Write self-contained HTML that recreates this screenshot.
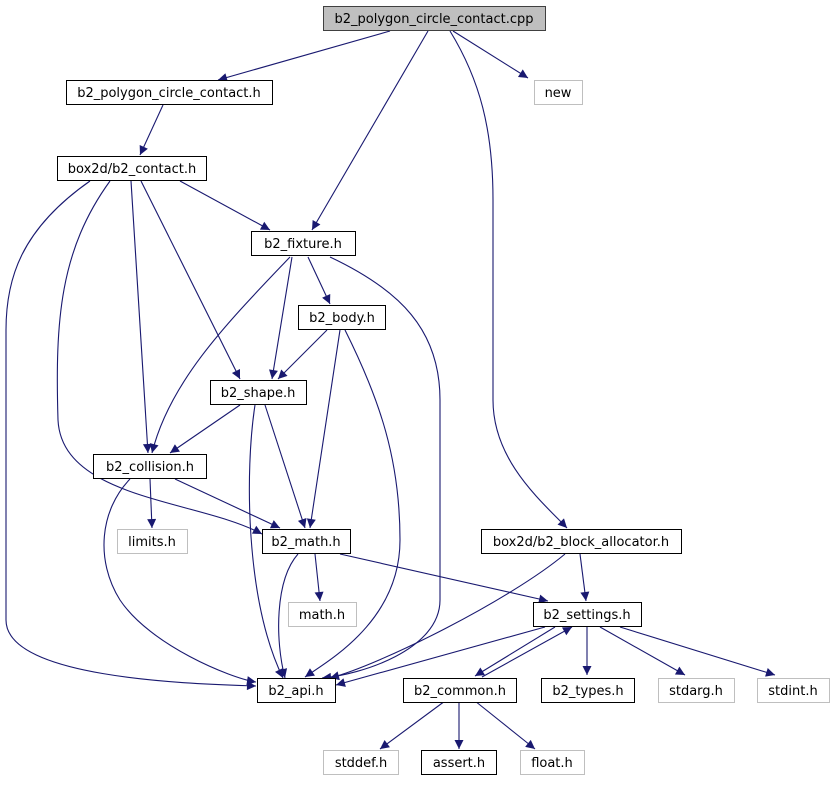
<!DOCTYPE html>
<html><head><style>
body{margin:0;background:#fff;width:834px;height:784px;overflow:hidden}
svg text{font-family:"DejaVu Sans","Liberation Sans",sans-serif;font-size:13px;text-anchor:middle}
</style></head><body>
<svg width="834" height="784" viewBox="0 0 834 784" xmlns="http://www.w3.org/2000/svg">
<defs><marker id="a" viewBox="0 0 10 10" refX="10" refY="5" markerWidth="11" markerHeight="9" orient="auto" markerUnits="userSpaceOnUse"><path d="M0,0L10,5L0,10z" fill="#191970"/></marker></defs>
<g fill="none" stroke="#191970" stroke-width="1.1" marker-end="url(#a)">
<path d="M390,31L218,80"/>
<path d="M453,31L528,78"/>
<path d="M428,31L312,230"/>
<path d="M450,31C480,80 493,130 493,200L493,400C493,460 540,500 567,528"/>
<path d="M163,105L140,155"/>
<path d="M180,181L270,230"/>
<path d="M141,181L240,379"/>
<path d="M131,181L148,453"/>
<path d="M110,181C60,250 55,320 58,420C62,500 200,500 262,534"/>
<path d="M90,181C20,230 6,280 6,330L6,620C6,680 200,684 256,686"/>
<path d="M308,257L330,304"/>
<path d="M292,257L272,379"/>
<path d="M290,257C230,320 170,380 152,453"/>
<path d="M330,257C400,290 440,330 440,400L440,600C440,650 360,675 322,678"/>
<path d="M327,330L278,379"/>
<path d="M340,330L310,528"/>
<path d="M345,330C380,400 400,460 400,540C400,620 330,660 305,677"/>
<path d="M240,405L170,453"/>
<path d="M265,405L305,528"/>
<path d="M255,405C245,470 245,600 283,678"/>
<path d="M150,479L152,528"/>
<path d="M175,479L280,528"/>
<path d="M130,479C100,510 95,560 120,600C150,645 230,678 256,682"/>
<path d="M315,554L320,601"/>
<path d="M340,554L548,601"/>
<path d="M298,554C275,580 275,640 285,678"/>
<path d="M580,554L586,601"/>
<path d="M565,554C510,600 380,665 330,678"/>
<path d="M545,627L336,685"/>
<path d="M555,627L475,676"/>
<path d="M482,677L572,627"/>
<path d="M587,627L587,675"/>
<path d="M600,627L685,675"/>
<path d="M620,627L775,675"/>
<path d="M445,701L380,749"/>
<path d="M459,701L459,749"/>
<path d="M475,701L535,749"/>
</g>
<g stroke-width="1">
<rect x="323.5" y="6.5" width="222" height="24" fill="#bfbfbf" stroke="#404040"/><text x="434" y="23">b2_polygon_circle_contact.cpp</text>
<rect x="66.5" y="80.5" width="206" height="24" fill="#fff" stroke="#000"/><text x="169" y="97">b2_polygon_circle_contact.h</text>
<rect x="534.5" y="80.5" width="48" height="24" fill="#fff" stroke="#bfbfbf"/><text x="558" y="97">new</text>
<rect x="57.5" y="156.5" width="149" height="24" fill="#fff" stroke="#000"/><text x="132" y="173">box2d/b2_contact.h</text>
<rect x="251.5" y="231.5" width="104" height="24" fill="#fff" stroke="#000"/><text x="303" y="248">b2_fixture.h</text>
<rect x="298.5" y="305.5" width="87" height="24" fill="#fff" stroke="#000"/><text x="342" y="322">b2_body.h</text>
<rect x="210.5" y="380.5" width="96" height="24" fill="#fff" stroke="#000"/><text x="258" y="397">b2_shape.h</text>
<rect x="93.5" y="454.5" width="113" height="24" fill="#fff" stroke="#000"/><text x="150" y="471">b2_collision.h</text>
<rect x="117.5" y="529.5" width="70" height="24" fill="#fff" stroke="#bfbfbf"/><text x="152" y="546">limits.h</text>
<rect x="262.5" y="529.5" width="88" height="24" fill="#fff" stroke="#000"/><text x="306" y="546">b2_math.h</text>
<rect x="481.5" y="529.5" width="200" height="24" fill="#fff" stroke="#000"/><text x="581" y="546">box2d/b2_block_allocator.h</text>
<rect x="288.5" y="602.5" width="68" height="24" fill="#fff" stroke="#bfbfbf"/><text x="322" y="619">math.h</text>
<rect x="533.5" y="602.5" width="108" height="24" fill="#fff" stroke="#000"/><text x="587" y="619">b2_settings.h</text>
<rect x="257.5" y="678.5" width="78" height="24" fill="#fff" stroke="#000"/><text x="296" y="695">b2_api.h</text>
<rect x="403.5" y="678.5" width="113" height="24" fill="#fff" stroke="#000"/><text x="460" y="695">b2_common.h</text>
<rect x="541.5" y="678.5" width="93" height="24" fill="#fff" stroke="#000"/><text x="588" y="695">b2_types.h</text>
<rect x="658.5" y="678.5" width="76" height="24" fill="#fff" stroke="#bfbfbf"/><text x="696" y="695">stdarg.h</text>
<rect x="757.5" y="678.5" width="72" height="24" fill="#fff" stroke="#bfbfbf"/><text x="793" y="695">stdint.h</text>
<rect x="323.5" y="750.5" width="75" height="24" fill="#fff" stroke="#bfbfbf"/><text x="361" y="767">stddef.h</text>
<rect x="421.5" y="750.5" width="75" height="24" fill="#fff" stroke="#000"/><text x="459" y="767">assert.h</text>
<rect x="520.5" y="750.5" width="64" height="24" fill="#fff" stroke="#bfbfbf"/><text x="552" y="767">float.h</text>
</g>
</svg>
</body></html>
